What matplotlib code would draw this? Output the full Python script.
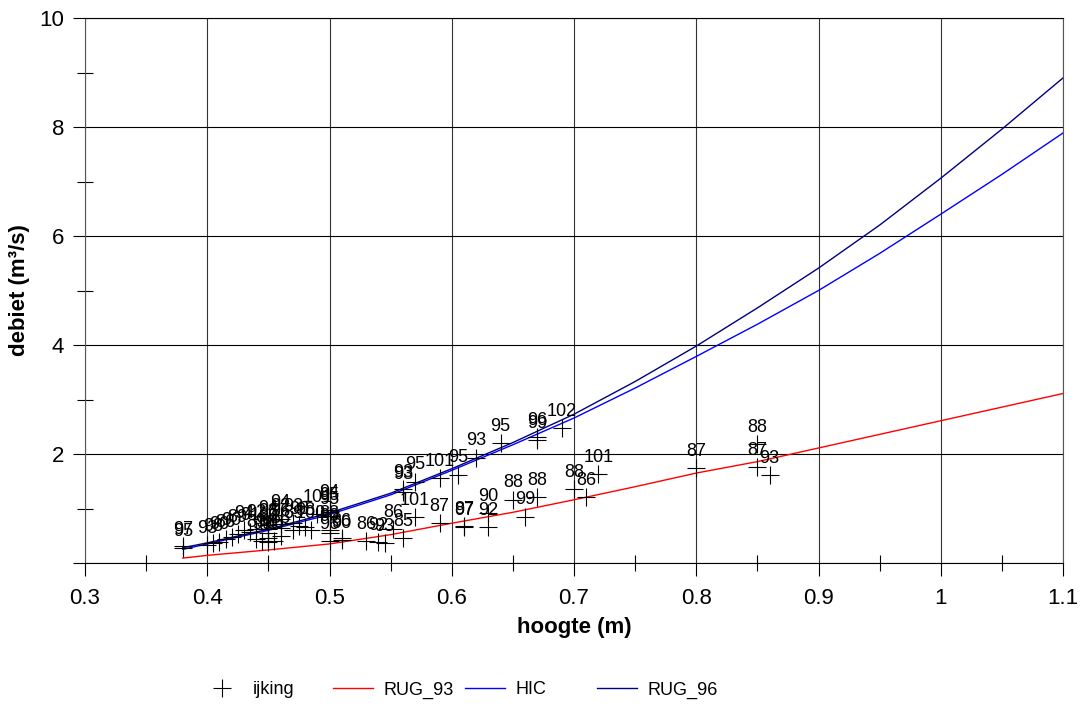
import matplotlib
matplotlib.use("Agg")
import matplotlib.pyplot as plt
from matplotlib.lines import Line2D
from matplotlib.ticker import MultipleLocator

plt.rcParams['font.family'] = ['Liberation Sans', 'DejaVu Sans']

# ijking (meetpunten): hoogte, debiet, jaar
ijk_h = [0.38, 0.38, 0.40, 0.405, 0.41, 0.415, 0.42, 0.425, 0.43, 0.435,
         0.44, 0.44, 0.445, 0.45, 0.45, 0.45, 0.45, 0.45, 0.455, 0.46,
         0.46, 0.46, 0.46, 0.47, 0.475, 0.47, 0.48, 0.485, 0.49, 0.50,
         0.50, 0.50, 0.50, 0.50, 0.50, 0.51, 0.51, 0.53, 0.54, 0.545,
         0.552, 0.56, 0.57, 0.59, 0.61, 0.61, 0.63, 0.63, 0.65, 0.66,
         0.67, 0.70, 0.71, 0.72, 0.80, 0.85, 0.85, 0.86,
         0.56, 0.56, 0.57, 0.59, 0.605, 0.62, 0.64, 0.67, 0.67, 0.69]
ijk_q = [0.31, 0.27, 0.33, 0.36, 0.39, 0.44, 0.47, 0.53, 0.60, 0.57,
         0.62, 0.44, 0.40, 0.70, 0.63, 0.55, 0.46, 0.38, 0.41, 0.80,
         0.72, 0.64, 0.50, 0.73, 0.68, 0.60, 0.66, 0.60, 0.90, 0.98,
         0.93, 0.86, 0.60, 0.55, 0.40, 0.46, 0.42, 0.40, 0.38, 0.36,
         0.62, 0.46, 0.84, 0.73, 0.68, 0.66, 0.92, 0.66, 1.16, 0.85,
         1.21, 1.36, 1.21, 1.63, 1.74, 2.18, 1.76, 1.61,
         1.35, 1.31, 1.49, 1.56, 1.62, 1.93, 2.20, 2.31, 2.25, 2.48]
ijk_jaar = [97, 95, 93, 98, 90, 86, 90, 89, 94, 91,
            92, 89, 99, 94, 98, 90, 88, 91, 85, 94,
            92, 96, 86, 93, 98, 89, 98, 100, 101, 94,
            95, 95, 88, 90, 96, 86, 90, 86, 92, 93,
            86, 85, 101, 87, 87, 97, 90, 92, 88, 99,
            88, 88, 86, 101, 87, 88, 87, 93,
            93, 93, 95, 101, 95, 93, 95, 96, 99, 102]

# sleutelkrommes
h_curve = [0.38, 0.40, 0.45, 0.50, 0.55, 0.60, 0.65, 0.70, 0.75, 0.80,
           0.85, 0.90, 0.95, 1.00, 1.05, 1.10]
q_rug93 = [0.09, 0.14, 0.24, 0.35, 0.52, 0.73, 0.93, 1.16, 1.40, 1.65,
           1.86, 2.11, 2.36, 2.61, 2.86, 3.11]
q_hic = [0.25, 0.35, 0.60, 0.89, 1.25, 1.70, 2.17, 2.66, 3.21, 3.79,
         4.38, 5.00, 5.68, 6.40, 7.13, 7.89]
q_rug96 = [0.28, 0.37, 0.62, 0.92, 1.28, 1.73, 2.21, 2.73, 3.33, 3.98,
           4.68, 5.41, 6.20, 7.06, 7.96, 8.90]

fig = plt.figure(figsize=(10.82, 7.07), dpi=100)
ax = fig.add_axes([85 / 1082, 1 - 563 / 707, 978 / 1082, 545 / 707])

ax.plot(h_curve, q_rug93, color='#ff0000', lw=1.0, zorder=3)
ax.plot(h_curve, q_hic, color='#0000ff', lw=1.0, zorder=3)
ax.plot(h_curve, q_rug96, color='#000080', lw=1.0, zorder=3)
ax.plot(ijk_h, ijk_q, ls='none', marker='+', ms=13, mew=0.8, color='black', zorder=4)

for h, q, j in zip(ijk_h, ijk_q, ijk_jaar):
    ax.annotate(str(j), (h, q), xytext=(0, 6), textcoords='offset points',
                ha='center', va='bottom', fontsize=13, zorder=5)

ax.set_xlim(0.3, 1.1)
ax.set_ylim(0, 10)
ax.xaxis.set_minor_locator(MultipleLocator(0.05))
ax.yaxis.set_minor_locator(MultipleLocator(1))
ax.set_xticks([0.3, 0.4, 0.5, 0.6, 0.7, 0.8, 0.9, 1.0, 1.1])
ax.set_xticklabels(['0.3', '0.4', '0.5', '0.6', '0.7', '0.8', '0.9', '1', '1.1'])
ax.set_yticks([0, 2, 4, 6, 8, 10])
ax.set_yticklabels(['', '2', '4', '6', '8', '10'])

ax.tick_params(which='major', direction='out', length=9, width=0.8, labelsize=16)
ax.tick_params(axis='x', which='major', pad=9)
ax.tick_params(axis='y', which='major', pad=6)
ax.tick_params(which='minor', direction='inout', length=12, width=0.8)

ax.grid(True, axis='x', which='major', color='#333333', lw=0.8)
ax.grid(True, axis='y', which='major', color='black', lw=0.8)
for side in ['left', 'right']:
    ax.spines[side].set_color('#555555')
    ax.spines[side].set_linewidth(0.8)
for side in ['top', 'bottom']:
    ax.spines[side].set_color('black')
    ax.spines[side].set_linewidth(0.8)

ax.set_xlabel('hoogte (m)', fontsize=16, fontweight='bold')
ax.set_ylabel('debiet (m³/s)', fontsize=16, fontweight='bold')
ax.xaxis.set_label_coords(0.5, -(627 - 563) / 545)
ax.yaxis.set_label_coords((20 - 85) / 978, 0.5)
ax.xaxis.label.set_va('center')
ax.yaxis.label.set_va('center')

# legenda onderaan, elk item op zijn eigen plek
items = [
    (Line2D([], [], ls='none', marker='+', ms=13, mew=0.8, color='black'), 'ijking', 202),
    (Line2D([], [], color='#ff0000', lw=1.0), 'RUG_93', 333),
    (Line2D([], [], color='#0000ff', lw=1.0), 'HIC', 465),
    (Line2D([], [], color='#000080', lw=1.0), 'RUG_96', 597),
]
for handle, label, xpx in items:
    fig.legend([handle], [label], loc='center left',
               bbox_to_anchor=(xpx / 1082, 1 - 690 / 707),
               frameon=False, fontsize=13, borderpad=0, borderaxespad=0,
               handlelength=2.2, handletextpad=0.6)

fig.savefig('out.png', dpi=100)
